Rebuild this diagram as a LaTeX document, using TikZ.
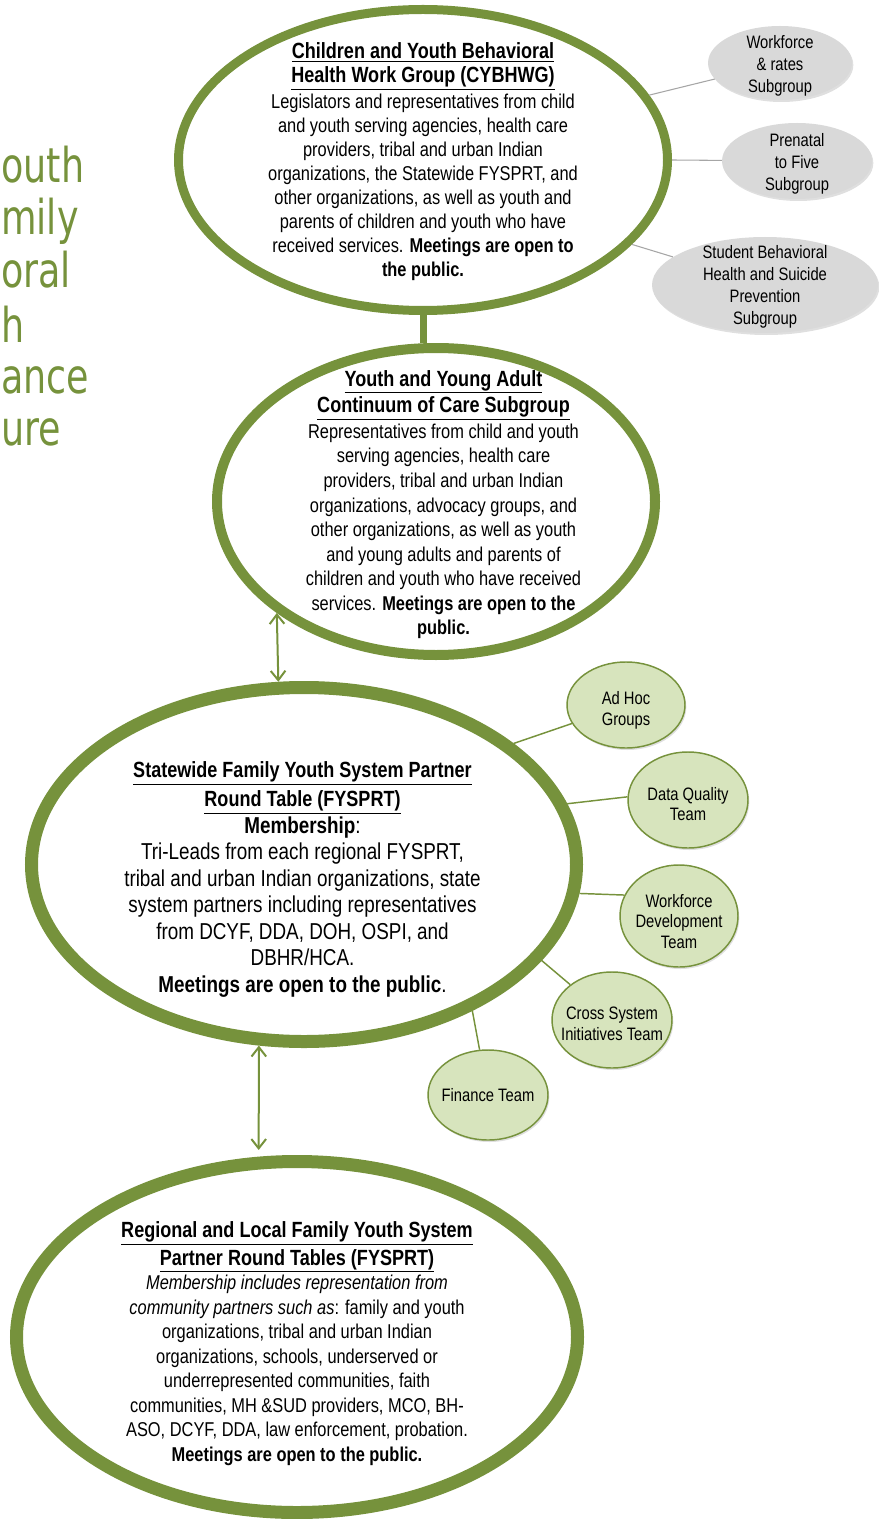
\documentclass[tikz,border=0pt]{standalone}
\usepackage{fontspec}
\setmainfont{Liberation Sans}[FakeStretch=0.82]
\newfontfamily\titlefont{DejaVu Sans}[FakeStretch=0.76]
\usetikzlibrary{shapes.geometric,arrows.meta,shadows}
\definecolor{ringgreen}{HTML}{76923C}
\definecolor{lightgreen}{HTML}{D7E4BD}
\definecolor{subgrey}{HTML}{D9D9D9}
\definecolor{linegrey}{HTML}{A6A6A6}
\newcommand\hdfont{\fontsize{16.5}{18}\selectfont\bfseries}
\newcommand\ulin[1]{\underline{#1}}
\begin{document}
\begin{tikzpicture}[x=0.75pt,y=-0.75pt,
  bigring/.style={ellipse, draw=ringgreen, inner sep=0pt},
  greysub/.style={ellipse, fill=subgrey, inner sep=0pt,
    drop shadow={shadow xshift=1pt, shadow yshift=-1.5pt, opacity=0.25}},
  greensub/.style={ellipse, fill=lightgreen, draw=ringgreen, line width=1.1pt, inner sep=0pt,
    drop shadow={shadow xshift=1pt, shadow yshift=-1.5pt, opacity=0.25}},
  subtext/.style={align=center, inner sep=0pt, font=\fontsize{13.5}{16.5}\selectfont},
  gsubtext/.style={align=center, inner sep=0pt, font=\fontsize{13.5}{15.5}\selectfont},
  greyline/.style={draw=linegrey, line width=0.8pt},
  greenline/.style={draw=ringgreen, line width=1.1pt},
  arr/.style={{Straight Barb[length=7pt,width=11pt]}-{Straight Barb[length=7pt,width=11pt]},
    draw=ringgreen, line width=1.5pt},
  titletext/.style={font=\titlefont\fontsize{36}{40}\selectfont, text=ringgreen, inner sep=0pt}
]
\useasboundingbox (0,0) rectangle (878,1519);

% title fragments (as visible at the left edge)
\node[titletext, anchor=base west] (ti1) at (1,183) {outh};
\node[titletext, anchor=base west] (ti2) at (1,235) {mily};
\node[titletext, anchor=base west] (ti3) at (1,288) {oral};
\node[titletext, anchor=base west] (ti4) at (1,342) {h};
\node[titletext, anchor=base west] (ti5) at (1,393) {ance};
\node[titletext, anchor=base west] (ti6) at (1,445) {ure};

% big ellipses
\node[bigring, line width=6.75pt, minimum width=366.75pt, minimum height=225.75pt] (e1) at (423,160) {};
\node[bigring, line width=7.5pt, minimum width=328.5pt, minimum height=230.25pt] (e2) at (436,501.5) {};
\node[bigring, line width=9.75pt, minimum width=408.75pt, minimum height=265.5pt] (e3) at (304,864.5) {};
\node[bigring, line width=9.75pt, minimum width=420.75pt, minimum height=263.25pt] (e4) at (297,1337) {};

% stem between the two top ellipses
\draw[draw=ringgreen, line width=5.25pt] (e1.south) -- (e1.south |- e2.north);

% double arrows
\draw[arr] (e2.215) -- (e3.98);
\draw[arr, shorten >=5pt] (e3.256) -- (e4.102);

% grey subgroups
\node[greysub, minimum width=108pt, minimum height=55.5pt] (gw) at (780,63) {};
\node[greysub, minimum width=112.5pt, minimum height=57pt] (gp) at (797,161) {};
\node[greysub, minimum width=169.5pt, minimum height=72pt] (gs) at (765,285) {};
\node[subtext] (gwt) at ([yshift=-2.5pt]gw.center) {Workforce\\ \& rates\\ Subgroup};
\node[subtext] (gpt) at ([yshift=-2pt]gp.center) {Prenatal\\ to Five\\ Subgroup};
\node[subtext] (gst) at ([yshift=-1.5pt]gs.center) {Student Behavioral\\ Health and Suicide\\ Prevention\\ Subgroup};
\draw[greyline] (e1.16) -- (gw);
\draw[greyline] (e1.0) -- (gp);
\draw[greyline] (e1.-22) -- (gs);

% green teams
\node[greensub, minimum width=88.5pt, minimum height=64.5pt] (ga) at (626,705) {};
\node[greensub, minimum width=90pt, minimum height=72pt] (gd) at (688,800) {};
\node[greensub, minimum width=88.5pt, minimum height=76.5pt] (gv) at (679,916) {};
\node[greensub, minimum width=90pt, minimum height=72pt] (gc) at (612,1020) {};
\node[greensub, minimum width=90pt, minimum height=67.5pt] (gf) at (488,1095) {};
\node[gsubtext] (gat) at ([yshift=-4pt]ga.center) {Ad Hoc\\ Groups};
\node[gsubtext] (gdt) at ([yshift=-3pt]gd.center) {Data Quality\\ Team};
\node[gsubtext] (gvt) at ([yshift=-4pt]gv.center) {Workforce\\ Development\\ Team};
\node[gsubtext] (gct) at ([yshift=-3pt]gc.center) {Cross System\\ Initiatives Team};
\node[gsubtext] (gft) at (gf) {Finance Team};
\draw[greenline] (e3.30) -- (ga);
\draw[greenline] (e3.13) -- (gd.177);
\draw[greenline] (e3.-6) -- (gv.159);
\draw[greenline] (e3.-22) -- (gc);
\draw[greenline] (e3.-41) -- (gf);

% texts of the big ellipses
\node[align=center, inner sep=0pt, font=\fontsize{15}{18}\selectfont] (t1) at (423,162) {%
{\hdfont\ulin{Children and Youth Behavioral}}\\
{\hdfont\ulin{Health Work Group (CYBHWG)}}\\[1.5pt]
Legislators and representatives from child\\
and youth serving agencies, health care\\
providers, tribal and urban Indian\\
organizations, the Statewide FYSPRT, and\\
other organizations, as well as youth and\\
parents of children and youth who have\\
received services. \textbf{Meetings are open to}\\
\textbf{the public.}};

\node[align=center, inner sep=0pt, font=\fontsize{15}{18.4}\selectfont] (t2) at (443.5,504.5) {%
{\hdfont\ulin{Youth and Young Adult}}\\[1.5pt]
{\hdfont\ulin{Continuum of Care Subgroup}}\\[1pt]
Representatives from child and youth\\
serving agencies, health care\\
providers, tribal and urban Indian\\
organizations, advocacy groups, and\\
other organizations, as well as youth\\
and young adults and parents of\\
children and youth who have received\\
services. \textbf{Meetings are open to the}\\
\textbf{public.}};

\node[align=center, inner sep=0pt, font=\fontsize{17.25}{19.9}\selectfont] (t3) at (302.5,879.5) {%
{\hdfont\ulin{Statewide Family Youth System Partner}}\\[2pt]
{\hdfont\ulin{Round Table (FYSPRT)}}\\
\textbf{Membership}:\\
Tri-Leads from each regional FYSPRT,\\
tribal and urban Indian organizations, state\\
system partners including representatives\\
from DCYF, DDA, DOH, OSPI, and\\
DBHR/HCA.\\
\textbf{Meetings are open to the public}.};

\node[align=center, inner sep=0pt, font=\fontsize{15}{18.4}\selectfont] (t4) at (297,1343.5) {%
{\hdfont\ulin{Regional and Local Family Youth System}}\\[2.5pt]
{\hdfont\ulin{Partner Round Tables (FYSPRT)}}\\
\textit{Membership includes representation from}\\
\textit{community partners such as}: family and youth\\
organizations, tribal and urban Indian\\
organizations, schools, underserved or\\
underrepresented communities, faith\\
communities, MH \&SUD providers, MCO, BH-\\
ASO, DCYF, DDA, law enforcement, probation.\\
\textbf{Meetings are open to the public.}};
\end{tikzpicture}
\end{document}
